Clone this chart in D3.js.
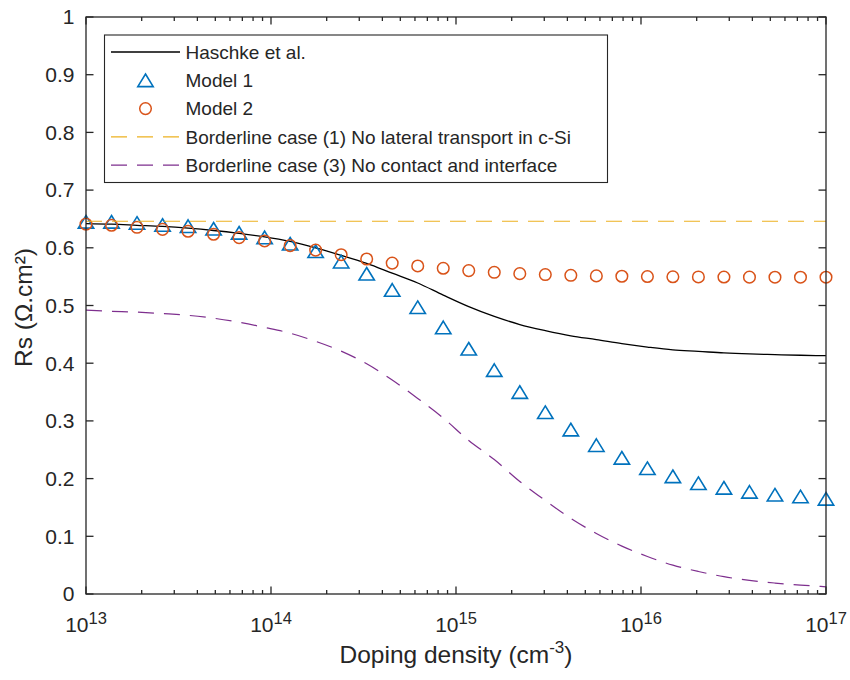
<!DOCTYPE html>
<html>
<head>
<meta charset="utf-8">
<script src="https://cdn.jsdelivr.net/npm/d3@7"></script>
<style>
  html, body { margin: 0; padding: 0; background: #fff; }
  svg { display: block; }
  text { font-family: "Liberation Sans", Arial, Helvetica, sans-serif; fill: #262626; }
</style>
</head>
<body>
<svg id="chart" width="850" height="680"></svg>
<script>
// ---------------- DATA ----------------
const doping = [1.000e13, 1.374e13, 1.887e13, 2.593e13, 3.562e13, 4.894e13, 6.723e13, 9.237e13,
  1.269e14, 1.743e14, 2.395e14, 3.290e14, 4.520e14, 6.210e14, 8.532e14,
  1.172e15, 1.610e15, 2.212e15, 3.039e15, 4.175e15, 5.736e15, 7.880e15,
  1.083e16, 1.487e16, 2.043e16, 2.807e16, 3.857e16, 5.298e16, 7.279e16, 1.000e17];

const haschke = [0.642, 0.641, 0.639, 0.637, 0.634, 0.630, 0.625, 0.619, 0.611, 0.600,
  0.587, 0.573, 0.556, 0.539, 0.518, 0.498, 0.481, 0.467, 0.4565, 0.4475,
  0.441, 0.434, 0.428, 0.423, 0.4205, 0.4178, 0.416, 0.4148, 0.4138, 0.413];

const model1 = [0.645, 0.645, 0.643, 0.6395, 0.6375, 0.633, 0.626, 0.618, 0.607, 0.594,
  0.576, 0.555, 0.527, 0.497, 0.462, 0.425, 0.388, 0.350, 0.315, 0.285,
  0.258, 0.236, 0.218, 0.204, 0.192, 0.184, 0.177, 0.172, 0.169, 0.165];

const model2 = [0.641, 0.639, 0.6355, 0.632, 0.6286, 0.6234, 0.6176, 0.6118, 0.6037, 0.596,
  0.588, 0.5806, 0.5735, 0.5685, 0.5645, 0.5605, 0.5575, 0.5552, 0.5536, 0.5523,
  0.5513, 0.5507, 0.5502, 0.5498, 0.5495, 0.5493, 0.5491, 0.549, 0.549, 0.549];

const border1X = [1e13, 1e17];
const border1 = [0.646, 0.646];

const border3 = [0.492, 0.490, 0.4885, 0.486, 0.483, 0.478, 0.471, 0.462, 0.452, 0.438,
  0.421, 0.399, 0.371, 0.339, 0.305, 0.266, 0.233, 0.195, 0.162, 0.131,
  0.105, 0.083, 0.065, 0.050, 0.039, 0.030, 0.0235, 0.019, 0.0155, 0.0125];

const xTickExps = [13, 14, 15, 16, 17];
const yTicks = [0, 0.1, 0.2, 0.3, 0.4, 0.5, 0.6, 0.7, 0.8, 0.9, 1];

const legendLabels = ["Haschke et al.", "Model 1", "Model 2",
  "Borderline case (1) No lateral transport in c-Si",
  "Borderline case (3) No contact and interface"];

// ---------------- LAYOUT ----------------
const L = 86, R = 826, T = 17, B = 594;
const svg = d3.select("#chart");
const x = d3.scaleLog().domain([1e13, 1e17]).range([L, R]);
const y = d3.scaleLinear().domain([0, 1]).range([B, T]);

const C_BLUE = "#0072BD", C_ORANGE = "#D95319", C_YELLOW = "#EDB120", C_PURPLE = "#7E2F8E";
const AX = "#262626";

// ticks (inside) + box
const axG = svg.append("g");
yTicks.forEach(v => {
  axG.append("line").attr("x1", L).attr("x2", L + 7.5).attr("y1", y(v)).attr("y2", y(v))
    .attr("stroke", AX).attr("stroke-width", 1.3);
  axG.append("line").attr("x1", R).attr("x2", R - 7.5).attr("y1", y(v)).attr("y2", y(v))
    .attr("stroke", AX).attr("stroke-width", 1.3);
  axG.append("text").attr("x", 74.5).attr("y", y(v)).attr("dy", "0.35em")
    .attr("text-anchor", "end").style("font-size", "21px").text(d3.format("")(v));
});
const xAll = x.ticks();
xAll.forEach(v => {
  const e = Math.log10(v);
  const major = Math.abs(e - Math.round(e)) < 1e-9;
  const len = major ? 7.5 : 4;
  axG.append("line").attr("x1", x(v)).attr("x2", x(v)).attr("y1", B).attr("y2", B - len)
    .attr("stroke", AX).attr("stroke-width", 1.3);
  axG.append("line").attr("x1", x(v)).attr("x2", x(v)).attr("y1", T).attr("y2", T + len)
    .attr("stroke", AX).attr("stroke-width", 1.3);
});
xTickExps.forEach(e => {
  const t = axG.append("text").attr("x", x(Math.pow(10, e))).attr("y", 632)
    .attr("text-anchor", "middle").style("font-size", "21px");
  t.append("tspan").text("10");
  t.append("tspan").attr("dy", -8.5).style("font-size", "16.5px").text(String(e));
});

// ---------------- SERIES ----------------
const line = d3.line().x((d, i) => x(doping[i])).y(d => y(d)).curve(d3.curveMonotoneX);

svg.append("path").attr("d", line(haschke)).attr("fill", "none")
  .attr("stroke", "#000").attr("stroke-width", 1.3);

const tri = "M0,-6.3L7.7,6.3L-7.7,6.3Z";
svg.append("g").selectAll("path").data(model1).join("path")
  .attr("d", tri)
  .attr("transform", (d, i) => `translate(${x(doping[i])},${y(d)})`)
  .attr("fill", "none").attr("stroke", C_BLUE).attr("stroke-width", 1.6);

svg.append("g").selectAll("circle").data(model2).join("circle")
  .attr("cx", (d, i) => x(doping[i])).attr("cy", d => y(d)).attr("r", 5.8)
  .attr("fill", "none").attr("stroke", C_ORANGE).attr("stroke-width", 1.5);

svg.append("path")
  .attr("d", d3.line().x((d, i) => x(border1X[i])).y(d => y(d))(border1))
  .attr("fill", "none").attr("stroke", C_YELLOW).attr("stroke-width", 1.2)
  .attr("stroke-dasharray", "16,10");

svg.append("path").attr("d", line(border3)).attr("fill", "none")
  .attr("stroke", C_PURPLE).attr("stroke-width", 1.2).attr("stroke-dasharray", "16,10");

svg.append("rect").attr("x", L).attr("y", T).attr("width", R - L).attr("height", B - T)
  .attr("fill", "none").attr("stroke", AX).attr("stroke-width", 1.3);

// ---------------- LEGEND ----------------
const lg = svg.append("g");
lg.append("rect").attr("x", 104.5).attr("y", 35).attr("width", 503).attr("height", 147.5)
  .attr("fill", "#fff").attr("stroke", AX).attr("stroke-width", 1.1);
const ly = i => 52 + i * 28.3;
const sx1 = 111, sx2 = 180, smid = 145.5;
lg.append("line").attr("x1", sx1).attr("x2", sx2).attr("y1", ly(0)).attr("y2", ly(0))
  .attr("stroke", "#000").attr("stroke-width", 1.3);
lg.append("path").attr("d", tri).attr("transform", `translate(${smid},${ly(1)})`)
  .attr("fill", "none").attr("stroke", C_BLUE).attr("stroke-width", 1.6);
lg.append("circle").attr("cx", smid).attr("cy", ly(2)).attr("r", 5.8)
  .attr("fill", "none").attr("stroke", C_ORANGE).attr("stroke-width", 1.5);
lg.append("line").attr("x1", sx1).attr("x2", sx2).attr("y1", ly(3)).attr("y2", ly(3))
  .attr("stroke", C_YELLOW).attr("stroke-width", 1.2).attr("stroke-dasharray", "16,10");
lg.append("line").attr("x1", sx1).attr("x2", sx2).attr("y1", ly(4)).attr("y2", ly(4))
  .attr("stroke", C_PURPLE).attr("stroke-width", 1.2).attr("stroke-dasharray", "16,10");
legendLabels.forEach((s, i) => {
  lg.append("text").attr("x", 185.5).attr("y", ly(i)).attr("dy", "0.35em")
    .style("font-size", "19px").attr("fill", "#000").text(s);
});

// ---------------- AXIS LABELS ----------------
const xl = svg.append("text").attr("x", (L + R) / 2).attr("y", 663)
  .attr("text-anchor", "middle").style("font-size", "24.5px");
xl.append("tspan").text("Doping density (cm");
xl.append("tspan").attr("dy", -10).style("font-size", "17px").text("-3");
xl.append("tspan").attr("dy", 10).text(")");

svg.append("text").attr("transform", `translate(32,${(T + B) / 2 + 2}) rotate(-90)`)
  .attr("text-anchor", "middle").style("font-size", "24.5px").text("Rs (\u03A9.cm\u00B2)");
</script>
</body>
</html>
